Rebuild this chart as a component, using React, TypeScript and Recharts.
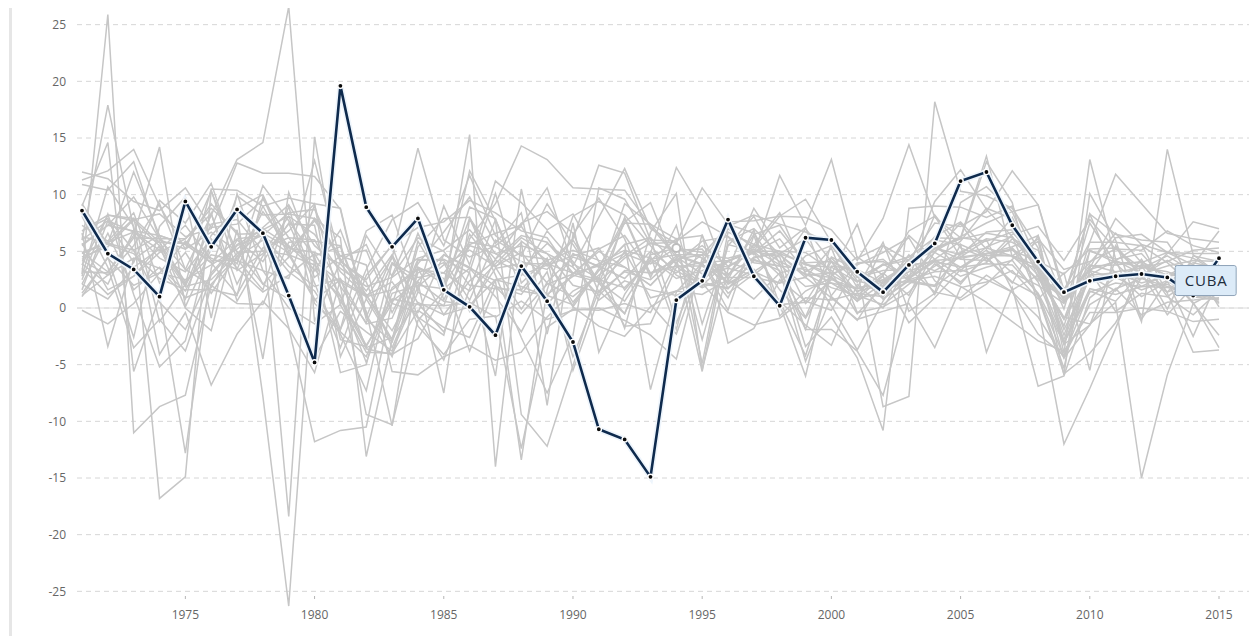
import { LineChart, Line, XAxis, YAxis, CartesianGrid, ReferenceLine, ReferenceDot, LabelList } from 'recharts';

// annual GDP growth (%), 1971-2015
const years = [
  1971, 1972, 1973, 1974, 1975, 1976, 1977, 1978, 1979, 1980,
  1981, 1982, 1983, 1984, 1985, 1986, 1987, 1988, 1989, 1990,
  1991, 1992, 1993, 1994, 1995, 1996, 1997, 1998, 1999, 2000,
  2001, 2002, 2003, 2004, 2005, 2006, 2007, 2008, 2009, 2010,
  2011, 2012, 2013, 2014, 2015,
];
const yTicks = [-25, -20, -15, -10, -5, 0, 5, 10, 15, 20, 25];
const xTicks = [1975, 1980, 1985, 1990, 1995, 2000, 2005, 2010, 2015];

const cuba = [
  8.6, 4.8, 3.4, 1.0, 9.4,
  5.4, 8.7, 6.6, 1.1, -4.8,
  19.6, 8.9, 5.4, 7.9, 1.6,
  0.1, -2.4, 3.7, 0.6, -3.0,
  -10.7, -11.6, -14.9, 0.7, 2.4,
  7.8, 2.8, 0.2, 6.2, 6.0,
  3.2, 1.4, 3.8, 5.7, 11.2,
  12.0, 7.3, 4.1, 1.4, 2.4,
  2.8, 3.0, 2.7, 1.1, 4.4,
];

const grd = [
  3.0, 25.9, -11.0, -8.7, -7.7,
  2.1, 4.5, 6.0, 3.2, 1.5,
  -2.1, -4.3, 1.8, 3.5, -0.6,
  2.4, 4.2, 3.1, 1.2, 2.8,
  3.9, 5.1, 4.4, 2.6, 3.3,
  4.1, 5.2, 3.8, 1.9, 2.2,
  0.8, 1.4, 2.6, 4.1, 3.6,
  4.8, 5.2, 2.3, -3.1, 1.7,
  1.2, 1.9, 2.1, 0.9, 1.4,
];
const guy = [
  6.0, 17.9, 7.0, -16.8, -14.9,
  10.4, 3.3, 4.8, 8.1, 6.5,
  3.2, 1.1, -2.0, 2.4, 4.7,
  3.6, 1.9, -0.5, 2.1, 3.0,
  5.2, 6.4, 3.1, 4.2, 5.5,
  3.7, 4.9, 6.1, 3.2, 4.4,
  2.3, 3.8, 4.2, 5.3, 6.2,
  5.9, 6.7, 4.1, 0.7, 3.4,
  4.1, 3.6, 3.2, 2.4, 2.7,
];
const chl = [
  9.0, 14.6, -5.6, 1.0, -12.8,
  3.5, 9.9, 8.2, 8.3, 7.9,
  6.2, -13.1, -2.8, 5.9, 2.0,
  5.6, 6.6, 7.3, 10.6, 3.7,
  8.0, 12.3, 7.0, 5.7, 10.6,
  7.4, 6.6, 3.2, -0.8, 4.5,
  3.4, 2.2, 3.9, 6.0, 5.6,
  4.6, 4.6, 3.7, -1.6, 5.8,
  5.8, 5.5, 4.0, 1.9, 2.3,
];
const nic = [
  4.9, 3.2, 6.4, 14.2, 0.1,
  5.2, 8.4, -7.8, -26.3, 4.6,
  5.4, -0.8, 4.6, -1.6, -4.1,
  -1.0, -0.7, -12.4, -1.7, -0.1,
  -0.2, 0.4, -0.4, 4.0, 5.9,
  6.3, 4.0, 3.7, 7.0, 4.1,
  3.0, 0.8, 2.5, 5.3, 4.3,
  4.2, 5.3, 2.9, -2.8, 3.2,
  6.2, 6.5, 4.9, 4.8, 4.8,
];
const kna = [
  5.5, 7.3, 9.8, 6.1, 3.4,
  8.2, 13.1, 14.6, 26.6, -1.2,
  4.1, 2.3, -3.5, 1.9, 3.8,
  5.1, 3.7, 4.9, 2.2, 1.0,
  2.9, 4.6, 6.2, 3.9, 2.1,
  1.8, 3.2, 4.7, 2.9, 3.1,
  -0.5, 1.9, 3.2, 4.3, 2.8,
  3.6, 4.2, 1.2, -4.3, 0.3,
  1.7, 2.6, 1.9, 1.2, 0.8,
];
const dma = [
  2.1, 0.8, 3.6, 5.2, 1.9,
  2.5, 4.8, 6.7, -18.4, 15.1,
  1.9, -1.3, 4.0, 2.7, 3.1,
  1.5, 3.9, 6.2, 4.8, 2.0,
  1.4, 3.2, 2.5, 4.6, 3.8,
  2.9, 5.6, 4.1, 3.0, 2.7,
  1.1, 0.3, 2.1, 3.7, 4.9,
  6.1, 5.8, 4.4, -1.9, 2.6,
  3.1, 2.2, 2.8, 3.6, 3.0,
];
const slv = [
  4.8, 5.7, 5.1, 6.4, 5.6,
  4.0, 6.1, 6.4, -1.7, -11.8,
  -10.8, -10.5, 0.6, 2.3, 0.6,
  0.2, 2.5, 1.9, 1.0, 4.8,
  3.6, 7.5, 7.4, 6.1, 6.4,
  1.7, 4.2, 3.7, 3.4, 2.2,
  1.7, 2.3, 2.3, 1.9, 3.6,
  3.9, 3.8, 1.3, -3.1, 1.4,
  2.2, 1.9, 1.8, 1.4, 2.5,
];
const ury = [
  -0.2, -1.4, 0.4, 3.1, 5.9,
  4.0, 1.2, 5.3, 6.2, 6.0,
  1.9, -9.4, -10.3, -1.1, 1.5,
  8.9, 7.9, 1.5, 1.1, 0.3,
  3.5, 7.9, 2.7, 7.3, -1.4,
  5.6, 5.0, 4.5, -1.9, -1.9,
  -3.8, -7.7, 0.8, 5.0, 7.5,
  4.1, 6.5, 7.2, 4.2, 7.8,
  5.2, 3.5, 4.6, 3.2, 0.4,
];
const per = [
  4.2, 2.9, 5.5, 9.2, 3.4,
  2.0, 0.4, 0.3, 5.8, 5.9,
  5.5, -0.3, -10.4, 3.6, 2.1,
  12.1, 7.7, -9.4, -12.2, -5.1,
  2.2, -0.5, 4.8, 12.4, 8.6,
  2.5, 6.9, -0.7, 1.5, 2.7,
  0.6, 5.5, 4.2, 5.0, 6.3,
  7.5, 8.5, 9.1, 1.1, 8.3,
  6.5, 6.0, 5.8, 2.4, 3.3,
];
const arg = [
  5.7, 1.6, 2.8, 5.5, 0.0,
  -2.0, 6.9, -4.5, 10.2, 4.2,
  -5.7, -5.0, 3.9, 2.2, -7.5,
  7.9, 2.9, -2.6, -7.5, -2.4,
  10.6, 9.6, 5.7, 5.8, -2.8,
  5.5, 8.1, 3.9, -3.4, -0.8,
  -4.4, -10.8, 8.8, 9.0, 8.9,
  8.0, 9.0, 4.1, -5.9, 10.1,
  6.0, -1.0, 2.4, -2.5, 2.7,
];
const ven = [
  3.2, 3.1, 6.2, 6.1, 6.1,
  8.8, 6.7, 2.1, 0.8, -4.4,
  -0.3, -2.1, -3.8, 1.4, 0.2,
  6.5, 3.6, 5.8, -8.6, 6.5,
  9.7, 6.1, 0.3, -2.3, 4.0,
  -0.2, 6.4, 0.3, -6.0, 3.7,
  3.4, -8.7, -7.8, 18.2, 10.3,
  9.9, 8.8, 5.3, -3.2, -1.5,
  4.2, 5.6, 1.3, -3.9, -3.7,
];
const mex = [
  3.8, 8.2, 7.9, 5.8, 5.7,
  4.4, 3.4, 9.0, 9.7, 9.2,
  8.8, -0.6, -4.3, 3.6, 2.6,
  -3.8, 1.9, 1.2, 4.2, 5.1,
  4.2, 3.6, 2.0, 4.4, -5.6,
  5.9, 7.0, 4.7, 2.7, 5.3,
  -0.4, 0.1, 1.4, 3.9, 2.3,
  4.5, 2.3, 1.1, -5.3, 5.1,
  4.0, 4.0, 1.4, 2.3, 2.6,
];
const bra = [
  11.3, 12.1, 14.0, 9.0, 5.2,
  10.3, 4.9, 5.0, 6.8, 9.2,
  -4.3, 0.8, -2.9, 5.4, 7.9,
  8.0, 3.6, -0.1, 3.2, -4.3,
  1.5, -0.5, 4.7, 5.3, 4.4,
  2.2, 3.4, 0.3, 0.5, 4.1,
  1.4, 3.1, 1.1, 5.8, 3.2,
  4.0, 6.1, 5.1, -0.1, 7.5,
  3.9, 1.9, 3.0, 0.5, -3.5,
];
const ecu = [
  6.3, 5.7, 12.0, 6.4, 5.6,
  9.2, 6.5, 6.6, 5.3, 4.9,
  3.9, 1.2, -2.8, 4.2, 4.3,
  3.1, -6.0, 10.5, 0.3, 3.0,
  5.0, 3.6, 2.0, 4.3, 2.3,
  1.7, 4.3, 3.3, -4.7, 1.1,
  4.0, 4.1, 2.7, 8.2, 5.3,
  4.4, 2.2, 6.4, 0.6, 3.5,
  7.9, 5.6, 4.9, 3.8, 0.1,
];
const jam = [
  2.8, 10.7, 7.2, -4.1, -0.4,
  -6.8, -2.3, 0.6, -1.8, -5.7,
  2.5, 1.1, 2.3, -0.9, -4.6,
  1.7, 7.8, 2.9, 6.8, 4.1,
  0.7, 2.4, 1.6, 1.1, 2.2,
  -0.4, -1.5, -0.9, 0.9, 0.7,
  1.3, 1.0, 3.5, 1.4, 0.9,
  2.9, 1.4, -0.8, -4.4, -1.5,
  1.7, -0.6, 0.5, 0.7, 0.9,
];
const sur = [
  3.5, 1.2, 2.8, 4.9, 6.1,
  8.3, 2.1, 6.4, 3.7, 1.9,
  2.6, -3.6, -4.1, -2.7, 1.3,
  15.3, -14.0, 5.9, 4.2, 0.5,
  3.3, 5.6, -7.2, 1.4, 4.0,
  4.2, 4.9, 1.6, -0.9, 2.8,
  4.5, 2.9, 6.8, 8.1, 4.5,
  4.8, 5.1, 4.1, 3.0, 5.2,
  5.3, 2.8, 2.9, 0.4, -2.4,
];
const blz = [
  1.1, 2.9, 4.4, 3.5, 0.9,
  1.8, 6.0, 4.1, 7.5, 2.2,
  -3.5, 2.9, 5.5, -0.8, -2.4,
  6.1, 9.2, 14.3, 13.1, 10.6,
  10.5, 10.4, 7.2, 4.5, 3.0,
  3.5, 2.9, 4.8, 6.1, 3.0,
  3.9, 4.3, 2.4, 2.0, 4.8,
  5.3, 4.6, 2.5, 0.9, 3.3,
  2.6, 3.8, 2.9, 4.0, 3.5,
];
const pan = [
  9.2, 5.6, 4.8, 2.6, 1.6,
  1.6, 1.1, 9.8, 4.5, 13.0,
  4.2, 5.6, 0.4, -0.4, 4.7,
  3.5, 2.4, -13.4, 1.6, 8.1,
  9.4, 8.2, 5.5, 2.9, 1.8,
  2.8, 6.5, 7.3, 3.9, 2.7,
  0.6, 2.2, 4.2, 7.5, 7.2,
  8.5, 12.1, 9.1, 1.6, 5.8,
  11.8, 9.2, 6.6, 6.1, 5.8,
];
const pry = [
  4.5, 5.4, 7.8, 8.3, 6.3,
  7.0, 12.8, 11.9, 11.9, 11.6,
  8.7, -1.0, -3.0, 3.1, 4.0,
  -0.3, 4.3, 6.4, 5.8, 3.1,
  2.5, 1.8, 4.1, 3.1, 4.7,
  1.3, 3.0, 0.6, -1.5, -3.3,
  2.1, 0.0, 3.8, 4.1, 2.1,
  4.8, 5.4, 6.4, -4.0, 13.1,
  4.3, -1.2, 14.0, 4.7, 3.0,
];
const dom = [
  10.9, 10.4, 12.9, 6.0, 5.2,
  6.7, 5.0, 2.1, 4.5, 7.9,
  4.3, 1.5, 4.7, 0.4, -2.1,
  3.2, 10.1, 2.2, 4.4, -5.5,
  0.9, 8.0, 3.0, 4.3, 4.7,
  7.2, 8.2, 7.4, 6.7, 5.7,
  1.8, 5.8, -0.3, 1.3, 9.3,
  10.7, 8.5, 3.1, 0.9, 8.3,
  2.8, 2.6, 4.8, 7.6, 7.0,
];
const tto = [
  2.1, 6.6, 1.6, 3.6, 1.5,
  6.4, 8.8, 10.0, 5.0, 7.7,
  4.6, 3.8, -5.6, -5.9, -4.3,
  -3.3, -4.6, -3.9, -0.8, 1.5,
  2.7, -1.6, -1.4, 3.6, 4.0,
  7.6, 7.7, 8.1, 8.0, 6.9,
  4.2, 7.9, 14.4, 8.0, 6.2,
  13.4, 4.5, 3.4, -4.4, 3.3,
  -0.3, 1.3, 1.0, -0.6, 1.5,
];
const hti = [
  6.6, -3.4, 4.3, 5.9, 0.8,
  8.4, 0.6, 4.6, 7.4, 7.3,
  -2.8, -3.4, 0.8, 0.3, 0.2,
  0.5, -0.8, 0.6, -1.0, -0.2,
  0.0, -1.1, -2.4, -4.5, 4.4,
  2.7, 2.7, 2.2, 2.7, 0.9,
  -1.0, -0.3, 0.4, -3.5, 1.8,
  2.3, 3.3, 0.8, 3.1, -5.5,
  5.5, 2.9, 4.2, 2.8, 1.2,
];
const bol = [
  4.9, 5.8, 6.7, 5.1, 7.3,
  4.2, 4.2, 3.3, 0.0, -1.4,
  0.3, -3.9, -4.0, -0.2, -1.7,
  -2.6, 2.5, 2.9, 3.8, 4.6,
  5.3, 1.6, 4.3, 4.7, 4.7,
  4.4, 5.0, 5.0, 0.4, 2.5,
  1.7, 2.5, 2.7, 4.2, 4.4,
  4.8, 4.6, 6.1, 3.4, 4.1,
  5.2, 5.1, 6.8, 5.5, 4.9,
];
const cri = [
  6.8, 8.2, 7.7, 5.5, 2.1,
  5.5, 8.9, 6.3, 4.9, 0.8,
  -2.3, -7.3, 2.9, 8.0, 0.7,
  5.5, 4.8, 3.4, 5.7, 3.9,
  2.6, 9.2, 7.4, 4.7, 3.9,
  0.9, 5.6, 8.4, 3.0, 1.8,
  1.1, 2.9, 6.4, 4.3, 5.9,
  8.8, 7.9, 2.7, -1.0, 5.0,
  4.3, 4.8, 2.3, 3.5, 3.6,
];
const gtm = [
  5.6, 7.3, 6.8, 6.4, 1.9,
  7.4, 7.8, 5.0, 4.7, 3.8,
  0.7, -3.5, -2.6, 0.5, -0.6,
  0.1, 3.5, 3.9, 3.9, 3.1,
  3.7, 4.8, 3.9, 5.3, 4.9,
  3.0, 4.4, 5.0, 3.8, 3.6,
  2.3, 3.9, 2.5, 3.2, 3.3,
  5.4, 6.3, 3.3, 0.5, 2.9,
  4.2, 3.0, 3.7, 4.2, 4.1,
];
const hnd = [
  4.3, 5.7, 7.9, -1.2, 2.1,
  10.5, 10.4, 9.0, 4.7, 0.7,
  2.5, -1.4, -0.9, 4.3, 4.2,
  0.7, 6.0, 4.6, 4.3, 0.1,
  3.3, 5.6, 6.2, -1.3, 4.1,
  3.6, 5.0, 2.9, -1.9, 5.7,
  2.7, 3.8, 4.5, 6.2, 6.1,
  6.6, 6.2, 4.2, -2.4, 3.7,
  3.8, 4.1, 2.8, 3.1, 3.6,
];
const col = [
  6.0, 7.7, 6.7, 5.8, 2.3,
  4.7, 4.2, 8.5, 5.4, 4.1,
  2.3, 1.0, 1.6, 3.4, 3.1,
  5.8, 5.4, 4.1, 3.4, 6.0,
  2.3, 4.4, 5.7, 5.1, 5.2,
  2.1, 3.4, 0.6, -4.2, 2.9,
  1.7, 2.5, 3.9, 5.3, 4.7,
  6.7, 6.9, 3.5, 1.7, 4.0,
  6.6, 4.0, 4.9, 4.4, 3.1,
];
const atg = [
  8.1, 3.6, -3.5, -1.0, -3.8,
  2.9, 5.5, 6.4, 8.4, 8.7,
  4.1, 2.5, 5.6, 7.1, 7.6,
  9.5, 8.4, 6.8, 6.2, 2.9,
  2.3, 0.6, 4.2, 6.1, -4.9,
  6.7, 5.6, 5.0, 4.9, 3.3,
  1.5, 2.0, 4.3, 5.2, 6.1,
  12.9, 9.3, 0.1, -12.0, -7.1,
  -1.8, 3.8, -0.1, 4.6, 4.1,
];
const lca = [
  1.3, 4.4, 2.0, 3.1, 2.5,
  3.8, 5.2, 7.1, 9.1, 5.5,
  3.5, 1.9, 2.7, 4.4, 5.1,
  6.9, 4.3, 7.5, 8.5, 6.6,
  1.4, 5.0, 0.9, 1.5, 1.2,
  2.5, 0.8, 3.1, 3.6, 0.2,
  -3.7, 0.6, 4.1, 3.3, 4.5,
  6.0, 1.6, 2.9, -0.8, -1.4,
  0.5, -15.0, -5.9, 0.4, 1.6,
];
const brb = [
  3.9, 2.1, 6.8, 4.4, 3.2,
  6.1, 3.5, 1.4, 2.9, 4.8,
  1.1, -4.8, 1.3, 2.0, 1.7,
  3.5, 1.0, -2.1, 2.3, 4.5,
  3.7, 2.6, 5.0, 3.3, 2.0,
  4.1, 3.2, 2.2, 4.6, 5.5,
  2.4, 1.8, 4.7, 1.2, 5.6,
  -3.9, 1.8, -6.9, -6.0, 0.9,
  2.7, 1.6, 2.4, 1.0, 0.7,
];
const vct = [
  12.0, 11.4, 9.4, 8.6, 10.6,
  7.1, 7.4, 9.6, 6.2, 3.3,
  6.9, 0.9, 4.4, 14.1, 6.0,
  4.5, 5.5, 7.2, 3.7, 6.1,
  12.6, 11.9, 6.0, 5.9, 7.6,
  6.3, 4.7, 11.7, 7.3, 13.1,
  4.4, 5.5, 2.8, 4.9, 3.6,
  5.1, 3.1, 2.0, 0.4, 3.8,
  3.2, 3.5, 4.1, 5.1, 5.3,
];
const pri = [
  6.8, 7.9, 5.1, 0.5, -1.9,
  3.1, 5.6, 7.0, 5.5, 3.4,
  1.0, -3.3, 0.4, 6.6, 1.9,
  7.9, 4.8, 5.5, 4.8, 3.6,
  1.1, 3.3, 3.1, 3.7, 3.7,
  2.3, 4.5, 4.8, 3.9, 3.0,
  7.4, 0.8, 2.4, 2.8, 1.9,
  0.5, -1.2, -2.9, -3.8, -0.4,
  -0.4, 0.0, -0.3, -1.2, -1.0,
];
const bhs = [
  2.5, 8.3, 1.2, -5.2, -2.9,
  6.0, 3.9, 10.8, 7.7, 4.5,
  -1.9, 6.4, 2.8, 6.2, 5.0,
  2.0, 1.7, 1.6, 4.2, 0.1,
  -1.6, -2.5, 0.1, 1.5, 2.5,
  4.2, 4.9, 6.8, 4.0, 4.1,
  0.8, 2.8, -1.3, 0.9, 3.4,
  2.5, 1.4, -2.3, -4.2, 1.5,
  0.6, 3.1, -0.6, 1.9, 0.5,
];
const aia = [
  1.0, 4.5, -2.6, 7.2, 9.8,
  -0.9, 10.1, 3.3, 2.6, 9.1,
  0.3, 6.8, 8.2, 1.5, 9.0,
  3.8, 11.2, 9.3, 6.9, 8.3,
  4.1, -1.8, 6.7, 10.1, -5.4,
  3.4, 8.8, 5.3, 7.1, 1.0,
  -1.1, 2.4, 3.6, 9.4, 12.2,
  8.7, 6.3, 1.0, -5.8, -4.0,
  -1.3, 2.7, 1.4, 3.8, 6.8,
];
const msr = [
  7.3, 5.9, 8.4, 2.2, 4.9,
  1.3, 4.6, 6.9, 8.1, 2.7,
  4.6, 5.1, -0.4, 3.9, 6.7,
  9.8, 5.7, 8.4, -2.3, 7.5,
  -3.9, 1.2, 4.6, -1.9, 6.5,
  -3.1, -1.8, 2.5, 0.6, -0.2,
  3.8, 4.9, 6.2, 2.4, 0.7,
  2.1, 4.3, 5.9, -3.2, 2.8,
  1.5, 4.3, 1.0, 2.6, 3.9,
];
const vgb = [
  1.6, 7.7, 4.0, 9.5, 7.5,
  11.0, 4.3, 1.6, 9.0, 0.4,
  -1.9, 3.4, 7.8, 9.3, 5.5,
  11.7, 6.4, 4.6, 9.2, 5.6,
  2.2, 7.6, 9.3, 3.7, 1.9,
  7.0, 5.3, 8.1, 9.6, 5.8,
  2.7, 3.3, 3.4, 6.3, 7.6,
  5.2, 8.0, 3.3, -1.0, 2.9,
  3.1, 1.0, 2.3, 1.8, 1.2,
];

const others: Record<string, number[]> = {
  GRD: grd, GUY: guy, CHL: chl, NIC: nic, KNA: kna, DMA: dma, SLV: slv, URY: ury,
  PER: per, ARG: arg, VEN: ven, MEX: mex, BRA: bra, ECU: ecu, JAM: jam, SUR: sur,
  BLZ: blz, PAN: pan, PRY: pry, DOM: dom, TTO: tto, HTI: hti, BOL: bol, CRI: cri,
  GTM: gtm, HND: hnd, COL: col, ATG: atg, LCA: lca, BRB: brb, VCT: vct, PRI: pri,
  BHS: bhs, AIA: aia, MSR: msr, VGB: vgb,
};

const data = years.map((year, i) => {
  const row: Record<string, number> = { year, CUB: cuba[i] };
  Object.keys(others).forEach((k) => {
    row[k] = others[k][i];
  });
  return row;
});

const font = '"Open Sans", "DejaVu Sans", sans-serif';

function YearTick({ x, y, payload }: any) {
  return (
    <g>
      <line x1={x} x2={x} y1={y - 18} y2={y - 15} stroke="#b5b5b5" />
      <text x={x} y={y + 5} textAnchor="middle" fill="#666" fontSize={12} fontFamily={font}>
        {payload.value}
      </text>
    </g>
  );
}

function CubaTag(props: any) {
  const { x, y, index } = props;
  if (index !== cuba.length - 2) return null;
  return (
    <g>
      <rect x={x - 18} y={y - 30} width={61} height={30} rx={2} fill="#dcebf8" stroke="#8ea3b8" />
      <text
        x={x + 13}
        y={y - 9.5}
        textAnchor="middle"
        fill="#1e2c3c"
        fontSize={15}
        letterSpacing={0.8}
        fontFamily={font}
      >
        CUBA
      </text>
    </g>
  );
}

export default function App() {
  return (
    <div style={{ position: 'relative', margin: '-8px 0 0 -8px', width: 1257, height: 636, background: '#fff' }}>
      <div style={{ position: 'absolute', left: 9, top: 0, width: 3, height: 636, background: '#e6e6e6' }} />
      <LineChart width={1257} height={636} data={data} margin={{ top: 2, right: 0, left: 0, bottom: 0 }}>
        <CartesianGrid vertical={false} horizontalValues={yTicks} stroke="#d6d6d6" strokeDasharray="5 4" />
        <ReferenceLine y={0} stroke="#dcdcdc" />
        <XAxis
          dataKey="year"
          type="number"
          domain={[1971, 2015]}
          ticks={xTicks}
          padding={{ left: 5, right: 38 }}
          axisLine={false}
          tickLine={false}
          tickSize={0}
          tickMargin={0}
          height={22}
          tick={<YearTick />}
          interval={0}
        />
        <YAxis
          domain={[-27, 27]}
          ticks={yTicks}
          width={77}
          axisLine={false}
          tickLine={false}
          tickSize={0}
          tickMargin={11}
          tick={{ fontSize: 12, fill: '#666', fontFamily: font }}
          interval={0}
        />
        {Object.keys(others).map((k) => (
          <Line
            key={k}
            dataKey={k}
            type="linear"
            stroke="#c6c6c6"
            strokeWidth={1.5}
            dot={false}
            activeDot={false}
            isAnimationActive={false}
          />
        ))}
        <ReferenceDot x={years[23]} y={gtm[23]} r={4} fill="#fff" stroke="#bdbdbd" strokeWidth={2} />
        <Line
          dataKey="CUB"
          type="linear"
          stroke="#eef5fc"
          strokeWidth={6}
          dot={false}
          activeDot={false}
          isAnimationActive={false}
        />
        <Line
          dataKey="CUB"
          type="linear"
          stroke="#0e2a4d"
          strokeWidth={2.6}
          dot={{ r: 2.6, fill: '#0a0a0a', stroke: '#fff', strokeWidth: 1.4 }}
          activeDot={false}
          isAnimationActive={false}
        >
          <LabelList dataKey="CUB" content={<CubaTag />} />
        </Line>
      </LineChart>
    </div>
  );
}
